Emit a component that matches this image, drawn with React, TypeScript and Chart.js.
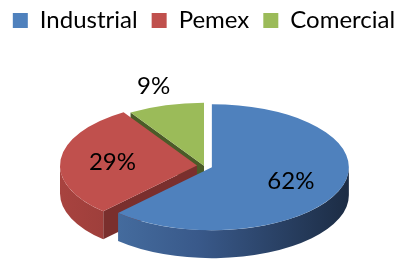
import React, { useEffect, useRef } from "react";
import { Chart, registerables } from "chart.js";

Chart.register(...registerables);

// ---- data ----
const categories = ["Industrial", "Pemex", "Comercial"];
const shares = [62, 29, 9];
const percentLabels = ["62%", "29%", "9%"];

// ---- style ----
const topColors = ["#4F81BD", "#C0504D", "#9BBB59"];
const wallStops = [
  ["#4a75a8", "#39598a", "#1c2c44"],
  ["#a8433f", "#8d3835", "#6d2826"],
  ["#6a7f36", "#566a2d", "#3e4c21"],
];
const cutColors = ["#2c4466", "#7a2f2d", "#4b5b28"];
const FONT = "Lato, 'Open Sans', sans-serif";
const RX = 137; // screen horizontal radius of the top ellipse
const RY = 63; // screen vertical radius of the top ellipse
const DEPTH = 28; // extrusion depth
const EXPLODE = [8, 7, 0];
const VIEW_DX = -2.5; // shift of the projected pie from the chart-area centre
const VIEW_DY = 14;

const pie3d = {
  id: "pie3d",
  beforeDatasetsDraw(chart: any) {
    const ctx: CanvasRenderingContext2D = chart.ctx;
    const meta = chart.getDatasetMeta(0);
    const arcs = meta.data;
    if (!arcs.length) return false;
    const total = shares.reduce((a, b) => a + b, 0);
    const geo = arcs.map((arc: any, i: number) => {
      const p = arc.getProps(["x", "y", "startAngle", "endAngle", "outerRadius"], true);
      const mid = (p.startAngle + p.endAngle) / 2;
      const dx = RX * Math.cos(mid);
      const dy = RY * Math.sin(mid);
      const len = Math.hypot(dx, dy) || 1;
      const e = EXPLODE[i] || 0;
      return {
        i,
        arc,
        x: p.x,
        y: p.y,
        start: p.startAngle,
        end: p.endAngle,
        R: p.outerRadius,
        mid,
        ox: p.x + VIEW_DX + (e * dx) / len,
        oy: p.y + VIEW_DY + (e * dy) / len,
      };
    });

    const pt = (g: any, a: number, h: number) => [g.ox + RX * Math.cos(a), g.oy + RY * Math.sin(a) + h];

    const cutFace = (g: any, a: number) => {
      const [px, py] = pt(g, a, 0);
      ctx.beginPath();
      ctx.moveTo(g.ox, g.oy);
      ctx.lineTo(px, py);
      ctx.lineTo(px, py + DEPTH);
      ctx.lineTo(g.ox, g.oy + DEPTH);
      ctx.closePath();
      ctx.fillStyle = cutColors[g.i];
      ctx.fill();
    };

    const wall = (g: any, a0: number, a1: number) => {
      const grad = ctx.createLinearGradient(g.ox - RX, 0, g.ox + RX, 0);
      const st = wallStops[g.i];
      grad.addColorStop(0, st[0]);
      grad.addColorStop(0.45, st[1]);
      grad.addColorStop(1, st[2]);
      const [x0, y0] = pt(g, a0, 0);
      const [x1, y1] = pt(g, a1, DEPTH);
      ctx.beginPath();
      ctx.moveTo(x0, y0);
      ctx.ellipse(g.ox, g.oy, RX, RY, 0, a0, a1, false);
      ctx.lineTo(x1, y1);
      ctx.ellipse(g.ox, g.oy + DEPTH, RX, RY, 0, a1, a0, true);
      ctx.closePath();
      ctx.fillStyle = grad;
      ctx.fill();
    };

    // sides: back to front
    const order = [...geo].sort((a: any, b: any) => Math.sin(a.mid) - Math.sin(b.mid));
    for (const g of order) {
      if (Math.cos(g.start) < -1e-6) cutFace(g, g.start);
      if (Math.cos(g.end) > 1e-6) cutFace(g, g.end);
      const a0 = Math.max(g.start, 0);
      const a1 = Math.min(g.end, Math.PI);
      if (a1 > a0) wall(g, a0, a1);
    }

    // tops, drawn by the arc elements themselves under a projection
    for (const g of geo) {
      ctx.save();
      ctx.translate(g.ox, g.oy);
      ctx.scale(RX / g.R, RY / g.R);
      ctx.translate(-g.x, -g.y);
      g.arc.draw(ctx);
      ctx.restore();
    }

    // percentage labels
    ctx.save();
    ctx.fillStyle = "#000";
    ctx.font = `24px ${FONT}`;
    ctx.textAlign = "center";
    ctx.textBaseline = "middle";
    for (const g of geo) {
      const small = shares[g.i] / total < 0.1;
      const rf = small ? 1.32 : 0.62;
      const lx = g.ox + RX * rf * Math.cos(g.mid);
      const ly = g.oy + RY * rf * Math.sin(g.mid);
      ctx.fillText(percentLabels[g.i], lx, ly);
    }
    ctx.restore();
    return false;
  },
};

export default function App() {
  const ref = useRef<HTMLCanvasElement | null>(null);
  useEffect(() => {
    let chart: Chart | null = null;
    let alive = true;
    const make = () => {
      if (!alive || !ref.current) return;
      chart = new Chart(ref.current, {
        type: "pie",
        data: {
          labels: categories,
          datasets: [
            {
              data: shares,
              backgroundColor: topColors,
              borderWidth: 0,
            },
          ],
        },
        options: {
          responsive: false,
          animation: false,
          events: [],
          layout: { padding: { top: -5.5, bottom: 0, left: -5, right: 0 } },
          plugins: {
            legend: {
              position: "top",
              labels: {
                boxWidth: 15,
                boxHeight: 15,
                padding: 14,
                color: "#000",
                font: { family: FONT, size: 24 },
              },
            },
            tooltip: { enabled: false },
          },
        },
        plugins: [pie3d as any],
      });
    };
    (document as any).fonts?.load?.(`24px Lato`).then(make, make) ?? make();
    return () => {
      alive = false;
      if (chart) chart.destroy();
    };
  }, []);
  return (
    <div style={{ position: "absolute", left: 0, top: 0, width: 413, height: 261, background: "#fff" }}>
      <canvas ref={ref} width={413} height={261} style={{ display: "block" }} />
    </div>
  );
}
